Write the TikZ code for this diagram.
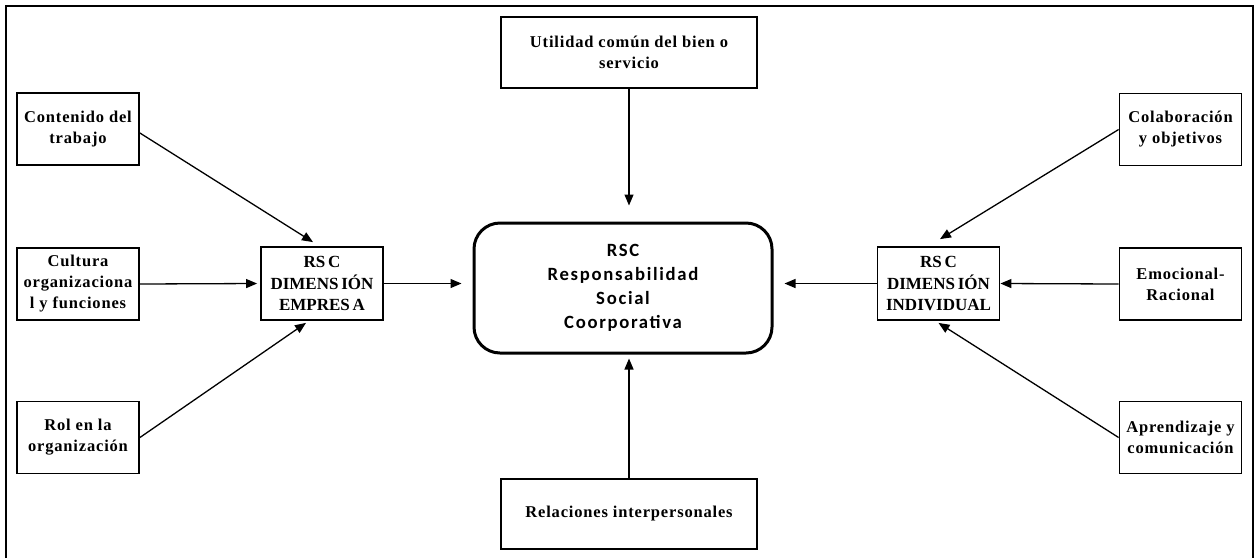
\documentclass[tikz,border=0pt]{standalone}
\usepackage{fontspec}
\setmainfont{Liberation Serif}
\newfontfamily\boxfont[LetterSpace=5]{Liberation Serif}
\newfontfamily\corefont[LetterSpace=9]{Carlito}
\usetikzlibrary{arrows.meta,calc}
\begin{document}
\begin{tikzpicture}[x=1pt,y=-1pt,
  factor/.style={draw,line width=1.8pt,inner sep=0pt,align=center,
    minimum width=122pt,minimum height=72pt,
    font=\boxfont\bfseries\fontsize{16.5}{21}\selectfont},
  wide/.style={factor,minimum width=256pt,minimum height=71pt},
  dimbox/.style={draw,line width=1.8pt,inner sep=0pt,align=center,
    minimum width=122pt,minimum height=73pt,
    font=\bfseries\fontsize{17}{21.7}\selectfont},
  core/.style={draw,line width=3pt,rounded corners=26pt,inner sep=0pt,
    align=center,minimum width=298pt,minimum height=130pt,
    font=\corefont\bfseries\fontsize{18.7}{24}\selectfont},
  link/.style={line width=1.3pt,-{Triangle[length=11pt,width=9pt]}}
]
\useasboundingbox (0,0) rectangle (1260,558);

% outer frame (open at the bottom)
\draw[line width=2pt] (6,558) -- (6,6) -- (1253,6) -- (1253,558);

% left column: company-level factors
\node[factor] (cont) at (78,129) {Contenido del\\trabajo};
\node[factor] (cult) at (78,284) {Cultura\\organizaciona\\l y funciones};
\node[factor] (rol)  at (78,437.5) {Rol en la\\organización};
\node[dimbox] (emp)  at (322,283.5) {RS\,C\\DIMENS\,IÓN\\EMPRES\,A};

% centre column
\node[wide] (util) at (629,52.5) {Utilidad común del bien o\\servicio};
\node[core] (core) at (623,288) {RSC\\Responsabilidad\\Social\\Coorporativa};
\node[wide,minimum height=70pt] (rel) at (629,514) {Relaciones interpersonales};

% right column: individual-level factors
\node[dimbox] (ind)  at (938.5,283.5) {RS\,C\\DIMENS\,IÓN\\INDIVIDUAL};
\node[factor] (coll) at (1180.5,129.5) {Colaboración\\y objetivos};
\node[factor] (emo)  at (1180.5,284) {Emocional-\\Racional};
\node[factor] (apr)  at (1180.5,437.5) {Aprendizaje y\\comunicación};

% connectors into the company dimension
\draw[link] ($(cont.east)+(0,4)$) -- ($(emp.north)+(-9,-4)$);
\draw[link] (cult.east) -- ($(emp.west)+(-3,0)$);
\draw[link] (rol.east) -- ($(emp.south)+(-16,2)$);

% connectors into the individual dimension
\draw[link] (coll.west) -- ($(ind.north)+(1.5,-7)$);
\draw[link] (emo.west) -- (ind.east);
\draw[link] (apr.west) -- ($(ind.south)+(0,2)$);

% connectors into the core
\draw[link,shorten >=11pt] (emp.east) -- (emp.east -| core.west);
\draw[link,shorten >=11pt] (ind.west) -- (ind.west -| core.east);
\draw[link,shorten >=16pt] (util.south) -- (util.south |- core.north);
\draw[link,shorten >=4pt] (rel.north) -- (rel.north |- core.south);
\end{tikzpicture}
\end{document}
